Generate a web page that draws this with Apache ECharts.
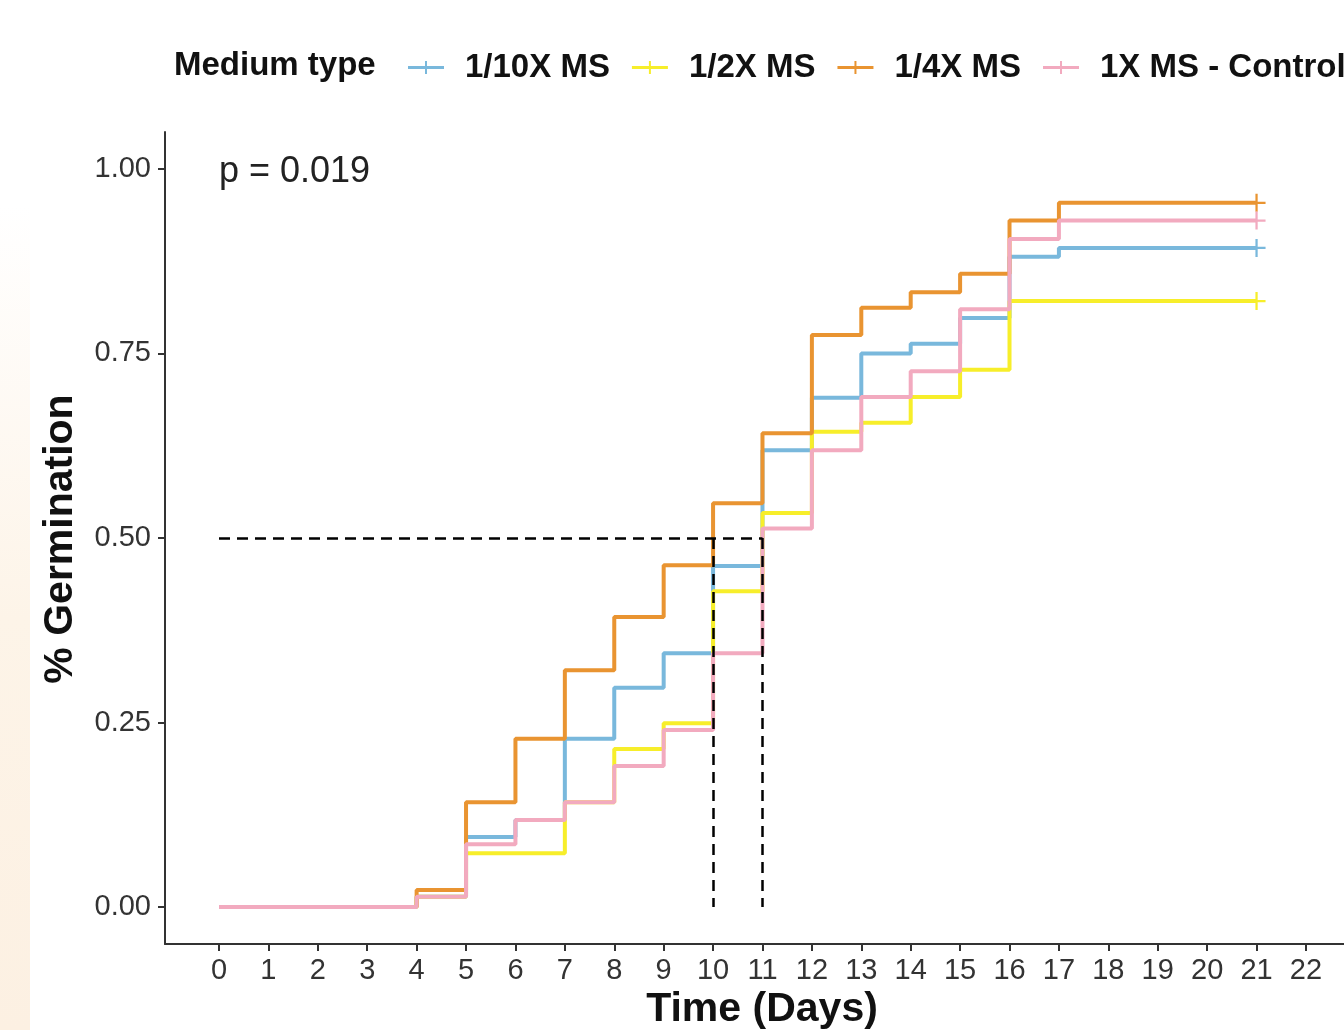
<!DOCTYPE html>
<html>
<head>
<meta charset="utf-8">
<script src="https://cdn.jsdelivr.net/npm/echarts@6/dist/echarts.min.js"></script>
<style>
  html, body { margin: 0; padding: 0; background: #fff; }
  #strip { position: absolute; left: 0; top: 0; width: 30px; height: 1030px;
           background: linear-gradient(#ffffff 20%, #fdf4e8 60%, #fcf0e2 100%); }
  #chart { position: absolute; left: 0; top: 0; width: 1344px; height: 1030px; }
</style>
</head>
<body>
<div id="strip"></div>
<div id="chart"></div>
<script>
  // days 0..21
  var days = [0,1,2,3,4,5,6,7,8,9,10,11,12,13,14,15,16,17,18,19,20,21];
  var groupNames = ['1/10X MS', '1/2X MS', '1/4X MS', '1X MS - Control'];
  var ms10 = [0,0,0,0,0.014,0.095,0.118,0.228,0.297,0.344,0.462,0.619,0.690,0.750,0.763,0.798,0.881,0.893,0.893,0.893,0.893,0.893];
  var ms2  = [0,0,0,0,0.014,0.073,0.073,0.142,0.214,0.249,0.428,0.534,0.644,0.656,0.691,0.728,0.821,0.821,0.821,0.821,0.821,0.821];
  var ms4  = [0,0,0,0,0.023,0.142,0.228,0.321,0.393,0.463,0.547,0.642,0.775,0.812,0.833,0.858,0.930,0.954,0.954,0.954,0.954,0.954];
  var ms1  = [0,0,0,0,0.014,0.085,0.118,0.142,0.191,0.240,0.344,0.513,0.619,0.691,0.726,0.810,0.905,0.930,0.930,0.930,0.930,0.930];
  var xTicks = [0,1,2,3,4,5,6,7,8,9,10,11,12,13,14,15,16,17,18,19,20,21,22];
  var yTicks = [0, 0.25, 0.5, 0.75, 1];
  var medianDays = [10, 11];
  var medianLevel = 0.5;

  var colors = ['#79b8dc', '#f7ee2a', '#e99431', '#f2aabf'];
  var plusPath = 'path://M0,7 L16,7 L16,9 L0,9 Z M7,0 L9,0 L9,16 L7,16 Z';
  var legendIcon = 'path://M0,6 L36,6 L36,9 L0,9 Z M17,1 L19,1 L19,14 L17,14 Z';

  function kmSeries(name, values, color) {
    var last = days.length - 1;
    return {
      type: 'line',
      name: name,
      step: 'end',
      data: days.map(function (d, i) { return [d, values[i]]; }),
      symbol: plusPath,
      symbolSize: function (v, p) { return p.dataIndex === last ? 18 : 0; },
      showSymbol: true,
      lineStyle: { color: color, width: 4 },
      itemStyle: { color: color },
      silent: true,
      animation: false
    };
  }

  var medianLines = [
    [{ coord: [0, medianLevel] }, { coord: [medianDays[1], medianLevel] }],
    [{ coord: [medianDays[0], medianLevel] }, { coord: [medianDays[0], 0] }],
    [{ coord: [medianDays[1], medianLevel] }, { coord: [medianDays[1], 0] }]
  ];

  var myChart = echarts.init(document.getElementById('chart'));
  myChart.setOption({
    backgroundColor: 'transparent',
    animation: false,
    textStyle: { fontFamily: 'Liberation Sans, Arial, sans-serif' },
    grid: { left: 165, top: 132, right: 0, height: 812 },
    legend: {
      data: groupNames,
      left: 403,
      top: 46,
      width: 1600,
      icon: legendIcon,
      itemWidth: 36,
      itemHeight: 15,
      itemGap: 22,
      selectedMode: false,
      textStyle: { fontSize: 33, fontWeight: 'bold', color: '#111', padding: [0, 0, 0, 16] }
    },
    xAxis: {
      type: 'value',
      min: -1.093,
      max: 22.77,
      splitLine: { show: false },
      axisLine: { onZero: false, lineStyle: { color: '#333', width: 2 } },
      axisTick: { customValues: xTicks, length: 7, lineStyle: { color: '#333', width: 2 } },
      axisLabel: { customValues: xTicks, fontSize: 29, color: '#333', margin: 12 }
    },
    yAxis: {
      type: 'value',
      min: -0.05,
      max: 1.05,
      splitLine: { show: false },
      axisLine: { show: true, onZero: false, lineStyle: { color: '#333', width: 2 } },
      axisTick: { show: true, customValues: yTicks, length: 7, lineStyle: { color: '#333', width: 2 } },
      axisLabel: {
        customValues: yTicks, fontSize: 29, color: '#333', margin: 14,
        formatter: function (v) { return v.toFixed(2); }
      }
    },
    graphic: [
      { type: 'text', left: 174, top: 49,
        style: { text: 'Medium type', font: 'bold 33px Liberation Sans, Arial, sans-serif', fill: '#111' } },
      { type: 'text', x: 219, y: 172,
        style: { text: 'p = 0.019', font: '36px Liberation Sans, Arial, sans-serif', fill: '#222',
                 textAlign: 'left', textVerticalAlign: 'middle' } },
      { type: 'text', x: 762, y: 1010,
        style: { text: 'Time (Days)', font: 'bold 41px Liberation Sans, Arial, sans-serif', fill: '#111',
                 textAlign: 'center', textVerticalAlign: 'middle' } },
      { type: 'text', x: 61, y: 539, rotation: Math.PI / 2,
        style: { text: '% Germination', font: 'bold 41px Liberation Sans, Arial, sans-serif', fill: '#111',
                 textAlign: 'center', textVerticalAlign: 'middle' } }
    ],
    series: [
      kmSeries(groupNames[0], ms10, colors[0]),
      kmSeries(groupNames[1], ms2, colors[1]),
      kmSeries(groupNames[2], ms4, colors[2]),
      kmSeries(groupNames[3], ms1, colors[3]),
      {
        type: 'line',
        name: 'median',
        data: [],
        z: 10,
        markLine: {
          silent: true,
          symbol: ['none', 'none'],
          label: { show: false },
          lineStyle: { color: '#000', width: 2.5, type: [11, 7] },
          data: medianLines
        }
      }
    ]
  });
</script>
</body>
</html>
